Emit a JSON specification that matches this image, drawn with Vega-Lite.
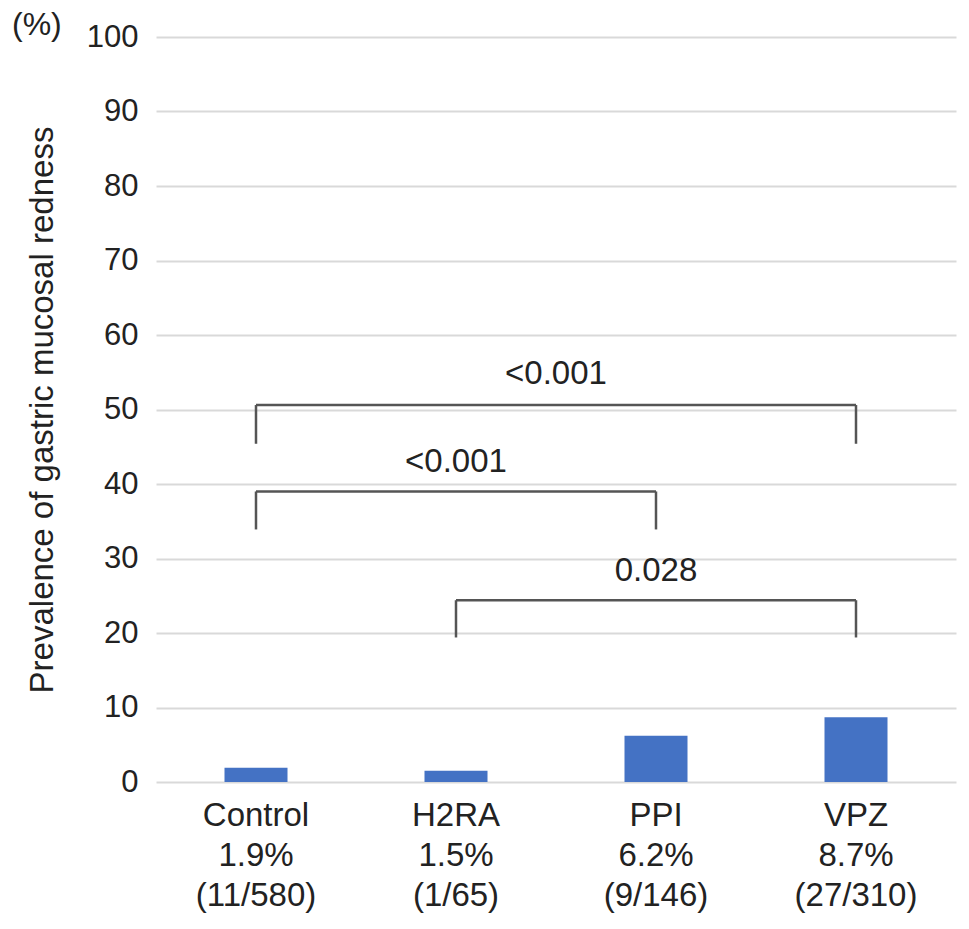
{
  "$schema": "https://vega.github.io/schema/vega-lite/v6.json",
  "width": 800,
  "height": 745,
  "autosize": {"type": "none"},
  "padding": {"left": 156, "top": 37, "right": 13, "bottom": 147},
  "background": "white",
  "title": {"text": "(%)", "anchor": "start", "frame": "group", "dx": -144, "dy": 46, "offset": 0, "baseline": "alphabetic", "fontSize": 32, "font": "Liberation Sans", "fontWeight": "normal", "color": "#222222"},
  "config": {
    "font": "Liberation Sans",
    "view": {"stroke": null},
    "axis": {"labelColor": "#222222", "titleColor": "#222222", "labelFont": "Liberation Sans", "titleFont": "Liberation Sans"}
  },
  "datasets": {
    "groups": [
      {"group": "Control", "prevalence": 1.9, "events": 11, "total": 580},
      {"group": "H2RA", "prevalence": 1.5, "events": 1, "total": 65},
      {"group": "PPI", "prevalence": 6.2, "events": 9, "total": 146},
      {"group": "VPZ", "prevalence": 8.7, "events": 27, "total": 310}
    ],
    "brackets": [
      {"from": "Control", "to": "VPZ", "top": 50.6, "bottom": 45.4, "p": "<0.001", "labelAt": "H2RA"},
      {"from": "Control", "to": "PPI", "top": 39.0, "bottom": 33.9, "p": "<0.001", "labelAt": "H2RA"},
      {"from": "H2RA", "to": "VPZ", "top": 24.4, "bottom": 19.4, "p": "0.028", "labelAt": "PPI"}
    ]
  },
  "layer": [
    {
      "data": {"name": "groups"},
      "mark": {"type": "bar", "width": {"band": 0.315}, "color": "#4472C4"},
      "encoding": {
        "x": {
          "field": "group", "type": "nominal",
          "scale": {"domain": ["Control", "H2RA", "PPI", "VPZ"], "paddingInner": 0, "paddingOuter": 0},
          "axis": {
            "title": null, "labelAngle": 0, "domain": false, "ticks": false, "grid": false,
            "labelFontSize": 33, "labelPadding": 17, "labelLineHeight": 40, "labelBaseline": "top",
            "labelExpr": "datum.value == 'Control' ? ['Control', '1.9%', '(11/580)'] : datum.value == 'H2RA' ? ['H2RA', '1.5%', '(1/65)'] : datum.value == 'PPI' ? ['PPI', '6.2%', '(9/146)'] : ['VPZ', '8.7%', '(27/310)']"
          }
        },
        "y": {
          "field": "prevalence", "type": "quantitative",
          "scale": {"domain": [0, 100], "nice": false},
          "axis": {
            "title": "Prevalence of gastric mucosal redness",
            "values": [0, 10, 20, 30, 40, 50, 60, 70, 80, 90, 100],
            "grid": true, "gridColor": "#d9d9d9", "gridWidth": 2,
            "domain": false, "ticks": false,
            "labelFontSize": 31, "labelPadding": 18,
            "titleFontSize": 33, "titleFontWeight": "normal", "titlePadding": 27
          }
        }
      }
    },
    {
      "data": {"name": "brackets"},
      "mark": {"type": "rule", "color": "#555555", "strokeWidth": 2.5},
      "encoding": {
        "x": {"field": "from", "type": "nominal"},
        "x2": {"field": "to"},
        "y": {"field": "top", "type": "quantitative"}
      }
    },
    {
      "data": {"name": "brackets"},
      "mark": {"type": "rule", "color": "#555555", "strokeWidth": 2.5},
      "encoding": {
        "x": {"field": "from", "type": "nominal"},
        "y": {"field": "bottom", "type": "quantitative"},
        "y2": {"field": "top"}
      }
    },
    {
      "data": {"name": "brackets"},
      "mark": {"type": "rule", "color": "#555555", "strokeWidth": 2.5},
      "encoding": {
        "x": {"field": "to", "type": "nominal"},
        "y": {"field": "bottom", "type": "quantitative"},
        "y2": {"field": "top"}
      }
    },
    {
      "data": {"name": "brackets"},
      "transform": [{"filter": "datum.to != 'VPZ' || datum.from != 'Control'"}],
      "mark": {"type": "text", "fontSize": 33, "color": "#222222", "baseline": "middle", "dy": -29},
      "encoding": {
        "x": {"field": "labelAt", "type": "nominal", "bandPosition": 0.5},
        "y": {"field": "top", "type": "quantitative"},
        "text": {"field": "p"}
      }
    },
    {
      "data": {"name": "brackets"},
      "transform": [{"filter": "datum.to == 'VPZ' && datum.from == 'Control'"}],
      "mark": {"type": "text", "fontSize": 33, "color": "#222222", "baseline": "middle", "dy": -31},
      "encoding": {
        "x": {"field": "labelAt", "type": "nominal", "bandPosition": 1},
        "y": {"field": "top", "type": "quantitative"},
        "text": {"field": "p"}
      }
    }
  ]
}
